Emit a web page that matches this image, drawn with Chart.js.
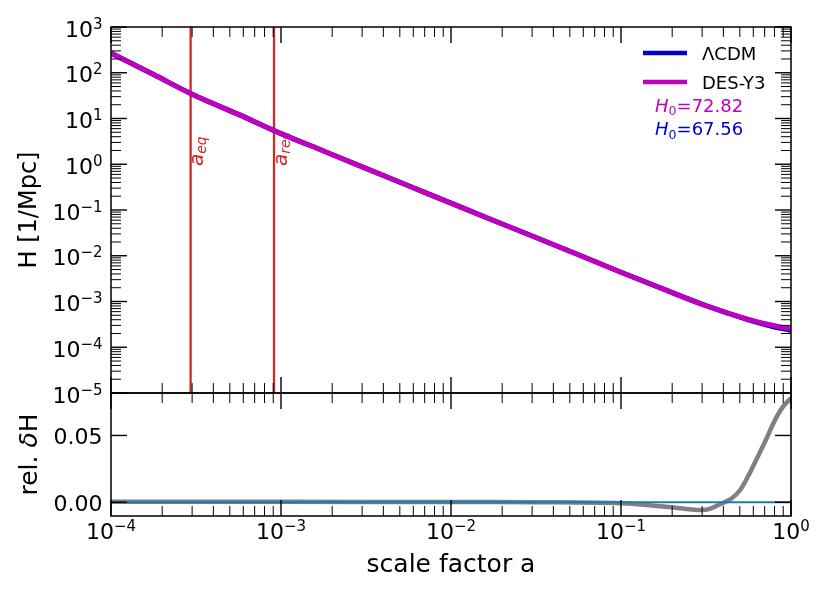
<!DOCTYPE html>
<html>
<head>
<meta charset="utf-8">
<script src="https://cdn.jsdelivr.net/npm/chart.js@4.4.1/dist/chart.umd.min.js"></script>
<style>
  body { margin: 0; background: #fff; }
  #wrap { position: relative; width: 830px; height: 593px; }
  canvas { position: absolute; left: 0; }
  #topChart { top: 0; }
  #bottomChart { top: 380px; }
</style>
</head>
<body>
<div id="wrap">
  <canvas id="topChart" width="830" height="405"></canvas>
  <canvas id="bottomChart" width="830" height="213"></canvas>
</div>
<script>
// values
const scaleFactor = [1e-4, 1.78e-4, 3.16e-4, 5.62e-4, 1e-3, 1.78e-3, 3.16e-3, 5.62e-3,
  1e-2, 1.78e-2, 3.16e-2, 5.62e-2, 0.1, 0.178, 0.316, 0.562, 0.75, 1];
const hubbleLCDM = [269, 91.2, 30.9, 12.3, 4.68, 1.95, 0.813, 0.339, 0.141, 0.0589, 0.0251,
  0.0105, 0.00437, 0.00186, 0.000813, 0.000398, 0.000295, 0.000233];
const hubbleDES = [269, 91.2, 30.9, 12.3, 4.68, 1.95, 0.813, 0.339, 0.141, 0.0589, 0.0251,
  0.0105, 0.00436, 0.00185, 0.000807, 0.000407, 0.00031, 0.000251];

const deltaScale = [1e-4, 1e-3, 1e-2, 0.0316, 0.1, 0.178, 0.251, 0.316, 0.355, 0.398, 0.447,
  0.501, 0.562, 0.631, 0.708, 0.794, 0.891, 1];
const deltaH = [0.0003, 0.0003, 0.0002, 0.0, -0.0008, -0.0032, -0.0052, -0.0057, -0.0035, -0.0005,
  0.0028, 0.009, 0.020, 0.033, 0.046, 0.060, 0.071, 0.078];

const seriesLabels = ['\u039BCDM', 'DES-Y3'];
const seriesColors = ['#0000cd', '#bf00bf'];
const h0Values = [67.56, 72.82];

const aEq = 2.94e-4;
const aRec = 9.1e-4;

const FONT = '"DejaVu Sans", sans-serif';

function logTicks(min, max) {
  const ticks = [];
  for (let e = Math.floor(Math.log10(min)); e <= Math.ceil(Math.log10(max)); e++) {
    for (let m = 1; m <= 9; m++) {
      const v = m * Math.pow(10, e);
      if (v >= min * 0.999 && v <= max * 1.001) ticks.push({ v, major: m === 1, exp: e });
    }
  }
  return ticks;
}

function drawRuns(ctx, runs, x, y) {
  let cx = x;
  for (const r of runs) {
    ctx.font = r.font;
    if (r.color) ctx.fillStyle = r.color;
    ctx.fillText(r.text, cx, y + (r.dy || 0));
    cx += ctx.measureText(r.text).width;
  }
}

function runsWidth(ctx, runs) {
  let w = 0;
  for (const r of runs) { ctx.font = r.font; w += ctx.measureText(r.text).width; }
  return w;
}

function powRuns(exp) {
  const sup = exp < 0 ? '\u2212' + (-exp) : String(exp);
  return [{ text: '10', font: '22px ' + FONT }, { text: sup, font: '15px ' + FONT, dy: -8 }];
}

function tickLine(ctx, x1, y1, x2, y2, major) {
  ctx.lineWidth = major ? 1.4 : 1;
  ctx.beginPath();
  ctx.moveTo(x1, y1);
  ctx.lineTo(x2, y2);
  ctx.stroke();
}

const mplAxes = {
  id: 'mplAxes',
  afterDraw(chart, args, opts) {
    const { ctx, chartArea: area, scales } = chart;
    const xs = scales.x, ys = scales.y;
    ctx.save();
    ctx.strokeStyle = '#000';
    ctx.fillStyle = '#000';
    ctx.textBaseline = 'alphabetic';

    for (const t of logTicks(xs.min, xs.max)) {
      const px = xs.getPixelForValue(t.v);
      const len = t.major ? 16 : 10;
      tickLine(ctx, px, area.bottom, px, area.bottom - len, t.major);
      tickLine(ctx, px, area.top, px, area.top + len, t.major);
    }

    const yTicks = opts.yLog ? logTicks(ys.min, ys.max) : opts.yTicks.map(v => ({ v, major: true }));
    for (const t of yTicks) {
      const py = ys.getPixelForValue(t.v);
      const len = t.major ? 16 : 10;
      tickLine(ctx, area.left, py, area.left + len, py, t.major);
      tickLine(ctx, area.right, py, area.right - len, py, t.major);
    }

    ctx.lineWidth = 1.5;
    ctx.strokeRect(area.left, area.top, area.right - area.left, area.bottom - area.top);

    // y tick labels
    for (const t of yTicks) {
      if (!t.major) continue;
      const py = ys.getPixelForValue(t.v);
      if (opts.yLog) {
        const runs = powRuns(t.exp);
        drawRuns(ctx, runs, area.left - 8.5 - runsWidth(ctx, runs), py + 9.5);
      } else {
        const runs = [{ text: t.v.toFixed(2), font: '22px ' + FONT }];
        drawRuns(ctx, runs, area.left - 8.5 - runsWidth(ctx, runs), py + 8.5);
      }
    }

    // x tick labels
    if (opts.xLabels) {
      for (const t of logTicks(xs.min, xs.max)) {
        if (!t.major) continue;
        const px = xs.getPixelForValue(t.v);
        const runs = powRuns(t.exp);
        drawRuns(ctx, runs, px - runsWidth(ctx, runs) / 2, area.bottom + 23);
      }
      const xt = [{ text: opts.xTitle, font: '25px ' + FONT }];
      drawRuns(ctx, xt, (area.left + area.right) / 2 - runsWidth(ctx, xt) / 2, area.bottom + 56);
    }

    // y title
    ctx.save();
    ctx.translate(30, (area.top + area.bottom) / 2);
    ctx.rotate(-Math.PI / 2);
    ctx.textBaseline = 'middle';
    drawRuns(ctx, opts.yTitle, -runsWidth(ctx, opts.yTitle) / 2, 0);
    ctx.restore();

    ctx.restore();
  }
};

const epochLabels = {
  id: 'epochLabels',
  beforeDatasetsDraw(chart, args, opts) {
    const { ctx, scales: { x } } = chart;
    ctx.save();
    ctx.fillStyle = '#d62728';
    ctx.textBaseline = 'alphabetic';
    for (const item of opts.items) {
      ctx.save();
      ctx.translate(x.getPixelForValue(item.a) + 12.5, 166);
      ctx.rotate(-Math.PI / 2);
      drawRuns(ctx, [
        { text: 'a', font: 'italic 20px ' + FONT },
        { text: item.sub, font: 'italic 14px ' + FONT, dy: 3 }
      ], 0, 0);
      ctx.restore();
    }
    ctx.restore();
  }
};

const mplLegend = {
  id: 'mplLegend',
  afterDraw(chart) {
    const { ctx } = chart;
    ctx.save();
    ctx.textBaseline = 'alphabetic';
    const rows = [53, 82];
    seriesLabels.forEach((label, i) => {
      ctx.strokeStyle = seriesColors[i];
      ctx.lineWidth = 4.5;
      ctx.beginPath();
      ctx.moveTo(643, rows[i]);
      ctx.lineTo(687, rows[i]);
      ctx.stroke();
      ctx.fillStyle = '#000';
      drawRuns(ctx, [{ text: label, font: '18px ' + FONT }], 702, rows[i] + 6.5);
    });
    // H0 annotations, DES first then LCDM
    const notes = [[1, 111.7], [0, 135]];
    for (const [i, y] of notes) {
      drawRuns(ctx, [
        { text: 'H', font: 'italic 18px ' + FONT, color: seriesColors[i] },
        { text: '0', font: '12.6px ' + FONT, dy: 3.5 },
        { text: '=' + h0Values[i].toFixed(2), font: '18px ' + FONT }
      ], 655, y);
    }
    ctx.restore();
  }
};

const pts = (xs, ys) => xs.map((a, i) => ({ x: a, y: ys[i] }));

new Chart(document.getElementById('topChart'), {
  type: 'line',
  data: {
    datasets: [
      { label: seriesLabels[1], data: pts(scaleFactor, hubbleDES), borderColor: seriesColors[1],
        borderWidth: 5, cubicInterpolationMode: 'monotone' },
      { label: seriesLabels[0], data: pts(scaleFactor, hubbleLCDM), borderColor: seriesColors[0],
        borderWidth: 5, cubicInterpolationMode: 'monotone' },
      { label: 'a_rec', data: [{ x: aRec, y: 1e-5 }, { x: aRec, y: 1e3 }], borderColor: '#d62728', borderWidth: 2.3 },
      { label: 'a_eq', data: [{ x: aEq, y: 1e-5 }, { x: aEq, y: 1e3 }], borderColor: '#d62728', borderWidth: 2.3 }
    ]
  },
  options: {
    responsive: false,
    animation: false,
    devicePixelRatio: 1,
    layout: { padding: { left: 111, top: 27, right: 39, bottom: 12 } },
    elements: { point: { radius: 0 } },
    scales: {
      x: { type: 'logarithmic', min: 1e-4, max: 1, display: false },
      y: { type: 'logarithmic', min: 1e-5, max: 1e3, display: false }
    },
    plugins: {
      legend: { display: false },
      tooltip: { enabled: false },
      mplAxes: { yLog: true, yTitle: [{ text: 'H [1/Mpc]', font: '24px ' + FONT }] },
      epochLabels: { items: [{ a: aEq, sub: 'eq' }, { a: aRec, sub: 'rec' }] }
    }
  },
  plugins: [mplAxes, epochLabels, mplLegend]
});

new Chart(document.getElementById('bottomChart'), {
  type: 'line',
  data: {
    datasets: [
      { label: 'zero', data: [{ x: 1e-4, y: 0 }, { x: 1, y: 0 }], borderColor: '#1f77b4', borderWidth: 2 },
      { label: 'rel. dH', data: pts(deltaScale, deltaH), borderColor: '#808080', borderWidth: 4.5,
        tension: 0.35 }
    ]
  },
  options: {
    responsive: false,
    animation: false,
    devicePixelRatio: 1,
    layout: { padding: { left: 111, top: 13, right: 39, bottom: 77 } },
    elements: { point: { radius: 0 } },
    scales: {
      x: { type: 'logarithmic', min: 1e-4, max: 1, display: false },
      y: { type: 'linear', min: -0.0103, max: 0.0818, display: false }
    },
    plugins: {
      legend: { display: false },
      tooltip: { enabled: false },
      mplAxes: {
        yLog: false, yTicks: [0, 0.05], xLabels: true, xTitle: 'scale factor a',
        yTitle: [
          { text: 'rel. ', font: '25px ' + FONT },
          { text: '\u03B4', font: 'italic 25px ' + FONT },
          { text: 'H', font: '25px ' + FONT }
        ]
      }
    }
  },
  plugins: [mplAxes]
});
</script>
</body>
</html>
